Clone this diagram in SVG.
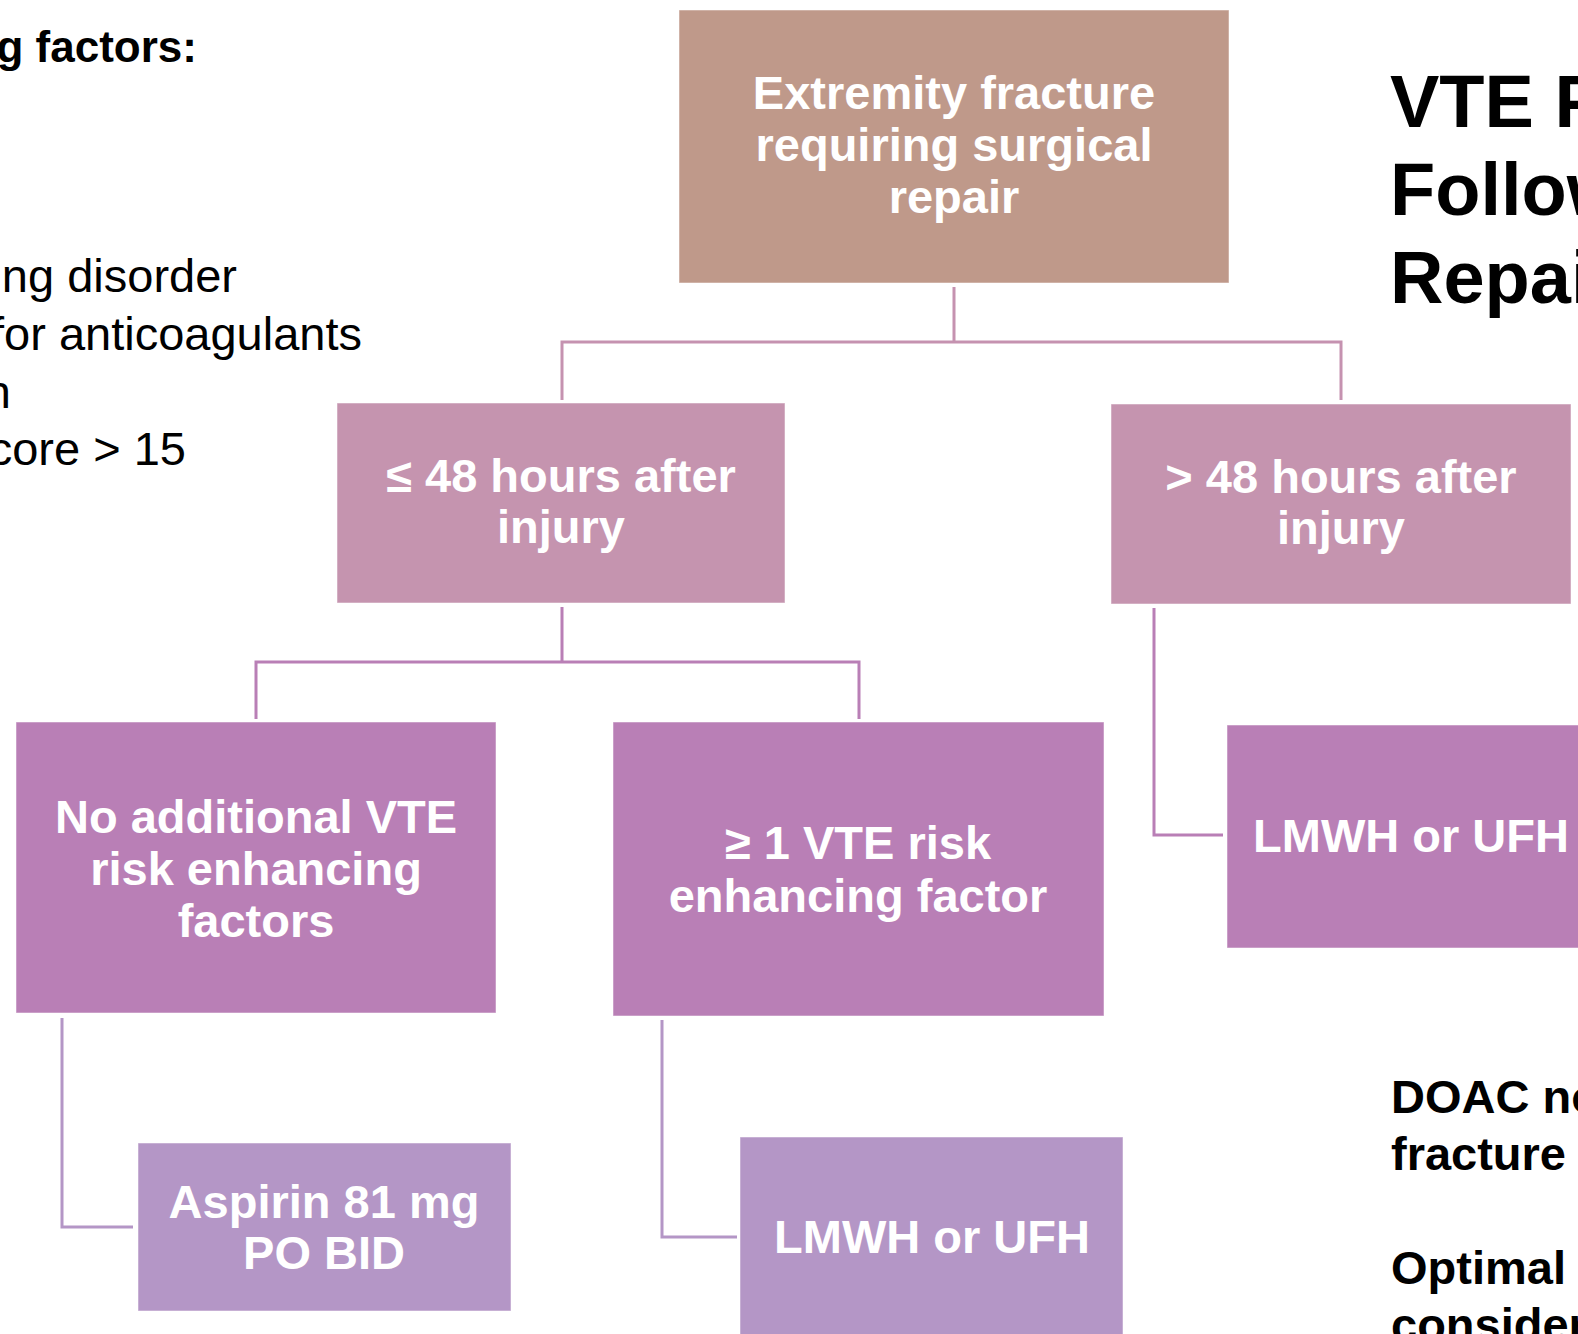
<svg xmlns="http://www.w3.org/2000/svg" width="1578" height="1334" viewBox="0 0 1578 1334">
<style>
.box{stroke:#ffffff;stroke-opacity:0.5;stroke-width:1}
.l1{fill:#BF998A}
.l2{fill:#C594AF}
.l3{fill:#B97FB6}
.l4{fill:#B496C6}
.bt{font-family:"Liberation Sans",Arial,sans-serif;font-weight:bold;font-size:47px;fill:#ffffff;text-anchor:middle}
.side{font-family:"Liberation Sans",Arial,sans-serif;fill:#000000}
.conn{fill:none;stroke-width:3;stroke-linejoin:miter;stroke-linecap:butt}
</style>
<rect width="1578" height="1334" fill="#ffffff"/>

<g id="side-text">
<text class="side" x="197" y="62" font-size="44" font-weight="bold" text-anchor="end">g factors:</text>
<text class="side" x="237" y="292" font-size="47" text-anchor="end">ng disorder</text>
<text class="side" x="362" y="350" font-size="47" text-anchor="end">for anticoagulants</text>
<text class="side" x="11" y="408" font-size="47" text-anchor="end">n</text>
<text class="side" x="186" y="465" font-size="47" text-anchor="end">core &gt; 15</text>
</g>

<g id="title">
<text class="side" x="1390" y="127" font-size="74" font-weight="bold">VTE P</text>
<text class="side" x="1390" y="215" font-size="74" font-weight="bold">Follow</text>
<text class="side" x="1390" y="303" font-size="74" font-weight="bold">Repai</text>
</g>

<g id="notes">
<text class="side" x="1391" y="1113" font-size="47" font-weight="bold">DOAC no</text>
<text class="side" x="1391" y="1170" font-size="47" font-weight="bold">fracture</text>
<text class="side" x="1391" y="1284" font-size="47" font-weight="bold">Optimal</text>
<text class="side" x="1391" y="1341" font-size="47" font-weight="bold">consider</text>
</g>

<g id="connectors">
<path class="conn" stroke="#C592B0" d="M954 287 V342 M562 400 V342 H1341 V400"/>
<path class="conn" stroke="#B97FB6" d="M562 607 V662 M256 719 V662 H859 V719"/>
<path class="conn" stroke="#B97FB6" d="M1154 608 V835 H1223"/>
<path class="conn" stroke="#B496C6" d="M62 1018 V1227 H133"/>
<path class="conn" stroke="#B496C6" d="M662 1020 V1237 H737"/>
</g>

<g id="node-root">
<rect class="box l1" x="679" y="10" width="550" height="273"/>
<text class="bt" x="954" y="109" font-size="48">Extremity fracture</text>
<text class="bt" x="954" y="161" font-size="48">requiring surgical</text>
<text class="bt" x="954" y="213" font-size="48">repair</text>
</g>

<g id="node-le48">
<rect class="box l2" x="337" y="403" width="448" height="200"/>
<text class="bt" x="561" y="492">≤ 48 hours after</text>
<text class="bt" x="561" y="543">injury</text>
</g>

<g id="node-gt48">
<rect class="box l2" x="1111" y="404" width="460" height="200"/>
<text class="bt" x="1341" y="493">&gt; 48 hours after</text>
<text class="bt" x="1341" y="544">injury</text>
</g>

<g id="node-norisk">
<rect class="box l3" x="16" y="722" width="480" height="291"/>
<text class="bt" x="256" y="833">No additional VTE</text>
<text class="bt" x="256" y="885">risk enhancing</text>
<text class="bt" x="256" y="937">factors</text>
</g>

<g id="node-risk">
<rect class="box l3" x="613" y="722" width="491" height="294"/>
<text class="bt" x="858" y="859">≥ 1 VTE risk</text>
<text class="bt" x="858" y="912">enhancing factor</text>
</g>

<g id="node-lmwh-right">
<rect class="box l3" x="1227" y="725" width="380" height="223"/>
<text class="bt" x="1411" y="852">LMWH or UFH</text>
</g>

<g id="node-aspirin">
<rect class="box l4" x="138" y="1143" width="373" height="168"/>
<text class="bt" x="324" y="1218">Aspirin 81 mg</text>
<text class="bt" x="324" y="1269">PO BID</text>
</g>

<g id="node-lmwh-bottom">
<rect class="box l4" x="740" y="1137" width="383" height="210"/>
<text class="bt" x="932" y="1253">LMWH or UFH</text>
</g>
</svg>
